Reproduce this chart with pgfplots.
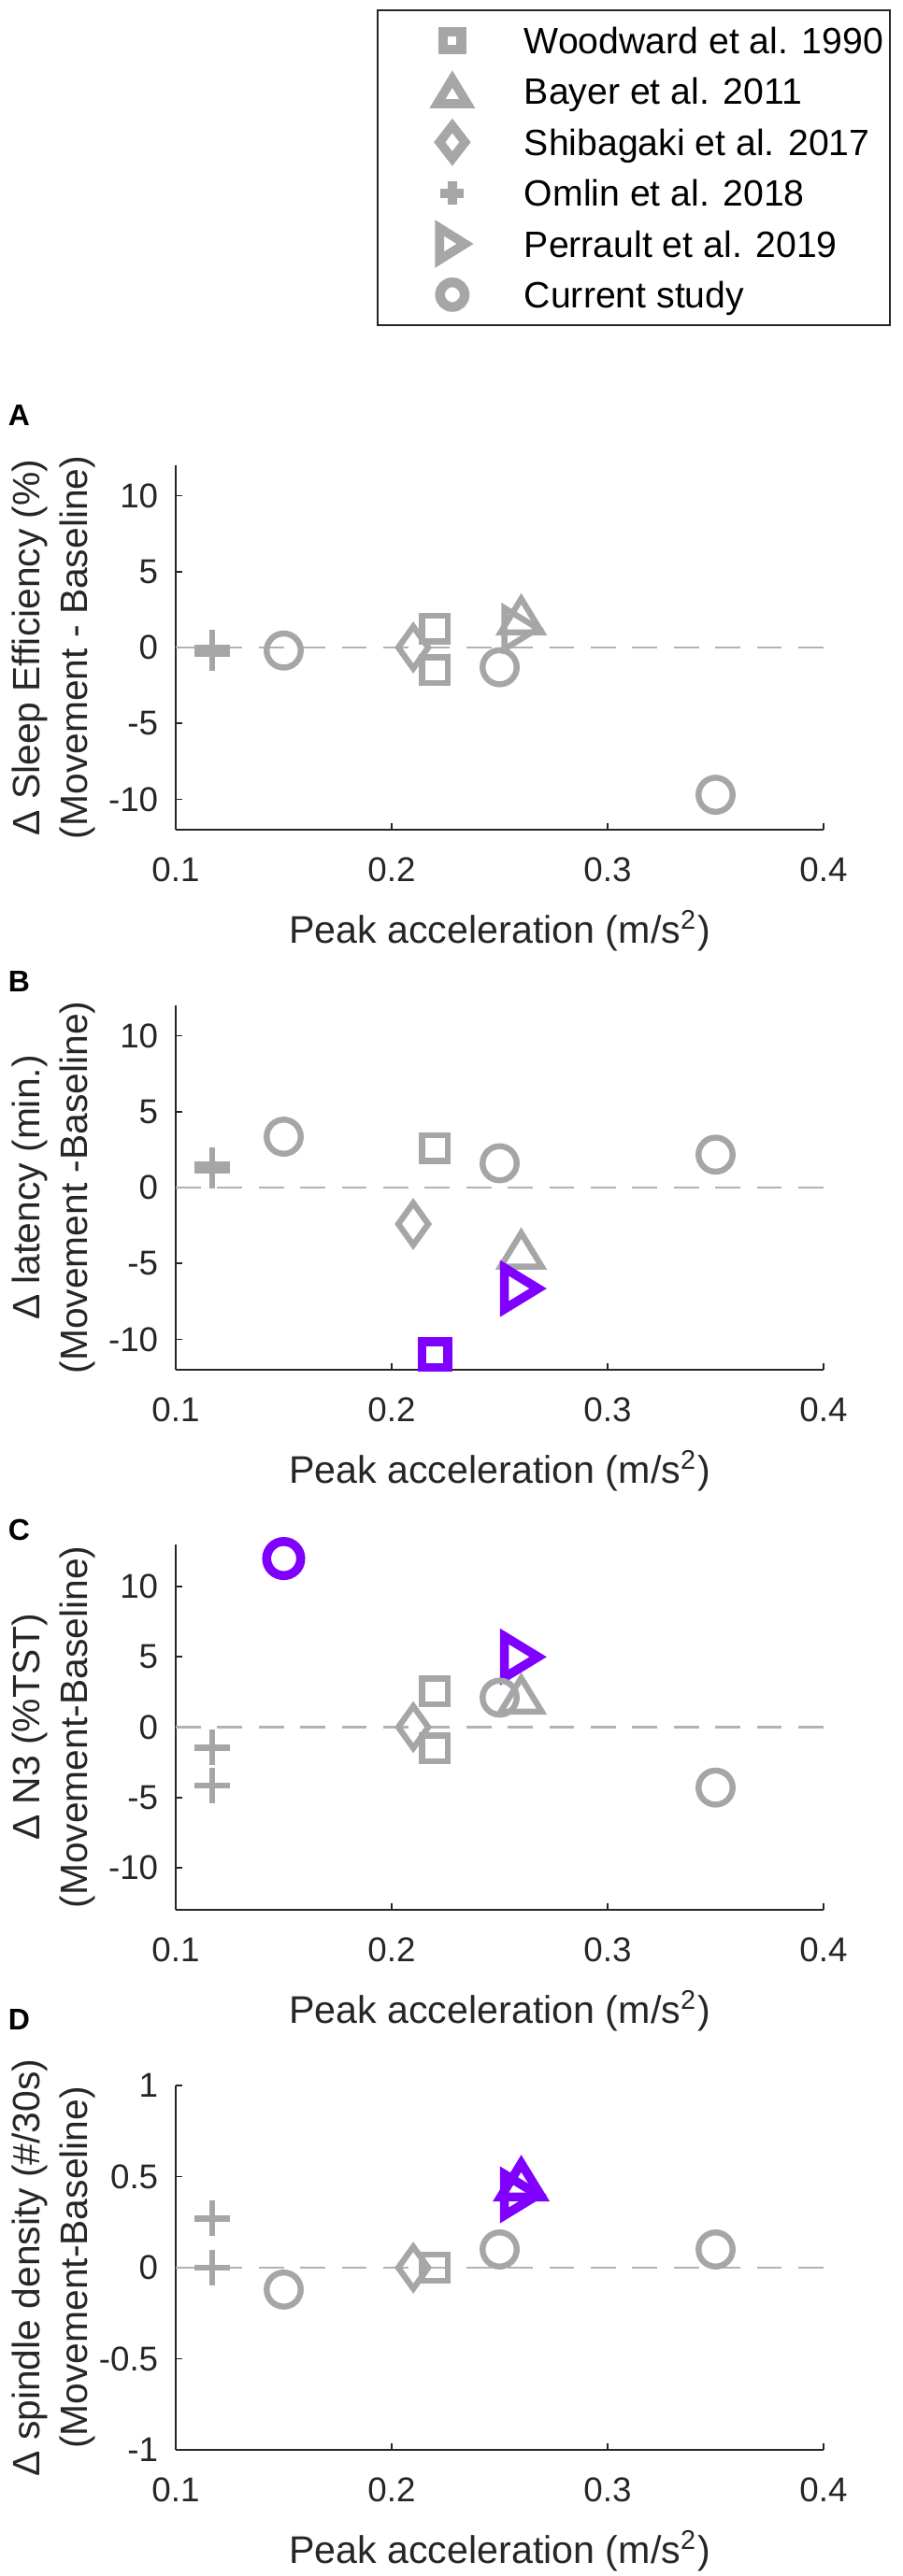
\documentclass[border=0pt]{standalone}
\usepackage{fontspec}
\setmainfont{Liberation Sans}
\usepackage{pgfplots}
\pgfplotsset{compat=1.18}
\definecolor{gr}{RGB}{166,166,166}
\definecolor{pu}{RGB}{127,0,255}
\definecolor{ax}{RGB}{38,38,38}
\definecolor{dl}{RGB}{178,178,178}

% plot marks (MATLAB-like, centred on bounding box)
\pgfdeclareplotmark{msq}{\pgfpathrectangle{\pgfpoint{-3.44pt}{-3.44pt}}{\pgfpoint{6.88pt}{6.88pt}}\pgfusepathqstroke}
\pgfdeclareplotmark{mci}{\pgfpathcircle{\pgfpointorigin}{4.56pt}\pgfusepathqstroke}
\pgfdeclareplotmark{mtu}{\pgfpathmoveto{\pgfpoint{0pt}{4.5pt}}\pgfpathlineto{\pgfpoint{5.5pt}{-4.5pt}}\pgfpathlineto{\pgfpoint{-5.5pt}{-4.5pt}}\pgfpathclose\pgfusepathqstroke}
\pgfdeclareplotmark{mtr}{\pgfpathmoveto{\pgfpoint{4.5pt}{0pt}}\pgfpathlineto{\pgfpoint{-4.5pt}{5.5pt}}\pgfpathlineto{\pgfpoint{-4.5pt}{-5.5pt}}\pgfpathclose\pgfusepathqstroke}
\pgfdeclareplotmark{mdi}{\pgfpathmoveto{\pgfpoint{0pt}{5.6pt}}\pgfpathlineto{\pgfpoint{4pt}{0pt}}\pgfpathlineto{\pgfpoint{0pt}{-5.6pt}}\pgfpathlineto{\pgfpoint{-4pt}{0pt}}\pgfpathclose\pgfusepathqstroke}
\pgfdeclareplotmark{mpl}{\pgfpathmoveto{\pgfpoint{-4.75pt}{0pt}}\pgfpathlineto{\pgfpoint{4.75pt}{0pt}}\pgfpathmoveto{\pgfpoint{0pt}{-4.75pt}}\pgfpathlineto{\pgfpoint{0pt}{4.75pt}}\pgfusepathqstroke}
% legend marks (smaller, thicker)
\pgfdeclareplotmark{lsq}{\pgfsetlinewidth{2.6pt}\pgfpathrectangle{\pgfpoint{-2.4pt}{-2.4pt}}{\pgfpoint{4.8pt}{4.8pt}}\pgfusepathqstroke}
\pgfdeclareplotmark{lci}{\pgfsetlinewidth{2.6pt}\pgfpathcircle{\pgfpointorigin}{3.3pt}\pgfusepathqstroke}
\pgfdeclareplotmark{ltu}{\pgfsetlinewidth{2.4pt}\pgfpathmoveto{\pgfpoint{0pt}{3.3pt}}\pgfpathlineto{\pgfpoint{4pt}{-3.3pt}}\pgfpathlineto{\pgfpoint{-4pt}{-3.3pt}}\pgfpathclose\pgfusepathqstroke}
\pgfdeclareplotmark{ltr}{\pgfsetlinewidth{2.4pt}\pgfpathmoveto{\pgfpoint{3.4pt}{0pt}}\pgfpathlineto{\pgfpoint{-3.4pt}{4.25pt}}\pgfpathlineto{\pgfpoint{-3.4pt}{-4.25pt}}\pgfpathclose\pgfusepathqstroke}
\pgfdeclareplotmark{ldi}{\pgfsetlinewidth{2.4pt}\pgfpathmoveto{\pgfpoint{0pt}{4.4pt}}\pgfpathlineto{\pgfpoint{3.4pt}{0pt}}\pgfpathlineto{\pgfpoint{0pt}{-4.4pt}}\pgfpathlineto{\pgfpoint{-3.4pt}{0pt}}\pgfpathclose\pgfusepathqstroke}
\pgfdeclareplotmark{lpl}{\pgfsetlinewidth{2.5pt}\pgfpathmoveto{\pgfpoint{-3.1pt}{0pt}}\pgfpathlineto{\pgfpoint{3.1pt}{0pt}}\pgfpathmoveto{\pgfpoint{0pt}{-3.1pt}}\pgfpathlineto{\pgfpoint{0pt}{3.1pt}}\pgfusepathqstroke}

\pgfplotsset{
  common/.style={
    scale only axis, width=173.25pt, height=97.5pt, clip=false,
    xmin=0.1, xmax=0.4,
    axis x line*=bottom, axis y line*=left,
    axis line style={ax, line width=0.45pt, -},
    tick style={ax, line width=0.45pt},
    major tick length=1.75pt, tick align=inside,
    xtick={0.1,0.2,0.3,0.4}, xticklabels={0.1,0.2,0.3,0.4},
    tick label style={font=\fontsize{9.2}{11}\selectfont, text=ax},
    xticklabel style={anchor=north, inner sep=0pt, yshift=-7.3pt},
    yticklabel style={anchor=east, inner sep=0pt, xshift=-4.5pt},
    xlabel={Peak acceleration (m/s\textsuperscript{2})},
    xlabel style={at={(axis description cs:0.5,0)}, anchor=center, yshift=-27pt, font=\fontsize{10.3}{12}\selectfont, text=ax},
    ylabel style={at={(axis description cs:-0.188,0.5)}, anchor=center, align=center, font=\fontsize{10.2}{12.75}\selectfont, text=ax},
  },
  zl/.style={dl, line width=0.65pt, dash pattern=on 6.7pt off 4.4pt, forget plot},
  gbase/.style={only marks, color=gr, line width=1.6pt, mark options={solid, line join=miter}},
  pbase/.style={only marks, color=pu, line width=2.4pt, mark options={solid, line join=miter}, forget plot},
  lg/.style={legend image code/.code={\path[draw=none, fill=none] (0pt,0pt) rectangle (37.5pt,0.01pt); \path[draw=gr, line join=miter, mark=#1, mark options={solid, draw=gr, line join=miter}] plot coordinates {(18.25pt,0pt)};}},
}

\begin{document}
\begin{tikzpicture}
\path[use as bounding box] (0,0) rectangle (241.25pt,-689.25pt);

\node[anchor=west, inner sep=0pt, font=\bfseries\fontsize{8}{10}\selectfont] at (2pt,-111.25pt) {A};
\node[anchor=west, inner sep=0pt, font=\bfseries\fontsize{8}{10}\selectfont] at (2pt,-262.5pt) {B};
\node[anchor=west, inner sep=0pt, font=\bfseries\fontsize{8}{10}\selectfont] at (2pt,-409.25pt) {C};
\node[anchor=west, inner sep=0pt, font=\bfseries\fontsize{8}{10}\selectfont] at (2pt,-540.25pt) {D};

% ---------- A ----------
\begin{axis}[common, at={(47pt,-222pt)}, anchor=south west,
  ymin=-12, ymax=12, ytick={-10,-5,0,5,10}, yticklabels={-10,-5,0,5,10},
  ylabel={Δ Sleep Efficiency (\%)\\(Movement - Baseline)},
  legend style={at={(0.3102,2.2513)}, anchor=north west, draw=ax, line width=0.45pt, fill=white,
    inner xsep=1.75pt, inner ysep=1.33pt, font=\fontsize{9.8}{11}\selectfont, text=black,
    column sep=0pt, row sep=0pt,
    nodes={inner sep=0pt, text height=10.3pt, text depth=3.3pt}},
  legend cell align=left]
\addplot[zl] coordinates {(0.1,0) (0.4,0)};
\addplot[gbase, mark=msq, lg=lsq] coordinates {(0.22,1.25) (0.22,-1.5)};
\addlegendentry{Woodward et al. 1990}
\addplot[gbase, mark=mtu, lg=ltu] coordinates {(0.26,2.1)};
\addlegendentry{Bayer et al. 2011}
\addplot[gbase, mark=mdi, lg=ldi] coordinates {(0.21,0)};
\addlegendentry{Shibagaki et al. 2017}
\addplot[gbase, mark=mpl, lg=lpl] coordinates {(0.117,0) (0.117,-0.4)};
\addlegendentry{Omlin et al. 2018}
\addplot[gbase, mark=mtr, lg=ltr] coordinates {(0.26,1.25)};
\addlegendentry{Perrault et al. 2019}
\addplot[gbase, mark=mci, lg=lci] coordinates {(0.15,-0.2) (0.25,-1.3) (0.35,-9.7)};
\addlegendentry{Current study}
\end{axis}

% ---------- B ----------
\begin{axis}[common, at={(47pt,-366.5pt)}, anchor=south west,
  ymin=-12, ymax=12, ytick={-10,-5,0,5,10}, yticklabels={-10,-5,0,5,10},
  ylabel={Δ latency (min.)\\(Movement -Baseline)}]
\addplot[zl] coordinates {(0.1,0) (0.4,0)};
\addplot[gbase, mark=msq, forget plot] coordinates {(0.22,2.6)};
\addplot[pbase, mark=msq] coordinates {(0.22,-11)};
\addplot[gbase, mark=mtu, forget plot] coordinates {(0.26,-4.1)};
\addplot[gbase, mark=mdi, forget plot] coordinates {(0.21,-2.4)};
\addplot[gbase, mark=mpl, forget plot] coordinates {(0.117,1.5) (0.117,1.1)};
\addplot[pbase, mark=mtr] coordinates {(0.26,-6.65)};
\addplot[gbase, mark=mci, forget plot] coordinates {(0.15,3.35) (0.25,1.6) (0.35,2.17)};
\end{axis}

% ---------- C ----------
\begin{axis}[common, at={(47pt,-511pt)}, anchor=south west, height=97.75pt,
  ymin=-13, ymax=13, ytick={-10,-5,0,5,10}, yticklabels={-10,-5,0,5,10},
  ylabel={Δ N3 (\%TST)\\(Movement-Baseline)}]
\addplot[zl] coordinates {(0.1,0) (0.4,0)};
\addplot[gbase, mark=msq, forget plot] coordinates {(0.22,2.55) (0.22,-1.5)};
\addplot[gbase, mark=mtu, forget plot] coordinates {(0.26,2.3)};
\addplot[gbase, mark=mdi, forget plot] coordinates {(0.21,0)};
\addplot[gbase, mark=mpl, forget plot] coordinates {(0.117,-1.45) (0.117,-4.15)};
\addplot[pbase, mark=mtr] coordinates {(0.26,5.0)};
\addplot[gbase, mark=mci, forget plot] coordinates {(0.25,2.1) (0.35,-4.3)};
\addplot[pbase, mark=mci] coordinates {(0.15,12)};
\end{axis}

% ---------- D ----------
\begin{axis}[common, at={(47pt,-655.5pt)}, anchor=south west,
  ymin=-1, ymax=1, ytick={-1,-0.5,0,0.5,1}, yticklabels={-1,-0.5,0,0.5,1},
  ylabel={Δ spindle density (\#/30s)\\(Movement-Baseline)}]
\addplot[zl] coordinates {(0.1,0) (0.4,0)};
\addplot[gbase, mark=msq, forget plot] coordinates {(0.22,0)};
\addplot[pbase, mark=mtu] coordinates {(0.26,0.48)};
\addplot[gbase, mark=mdi, forget plot] coordinates {(0.21,0)};
\addplot[gbase, mark=mpl, forget plot] coordinates {(0.117,0.27) (0.117,0)};
\addplot[pbase, mark=mtr] coordinates {(0.26,0.4)};
\addplot[gbase, mark=mci, forget plot] coordinates {(0.15,-0.12) (0.25,0.1) (0.35,0.1)};
\end{axis}
\end{tikzpicture}
\end{document}
